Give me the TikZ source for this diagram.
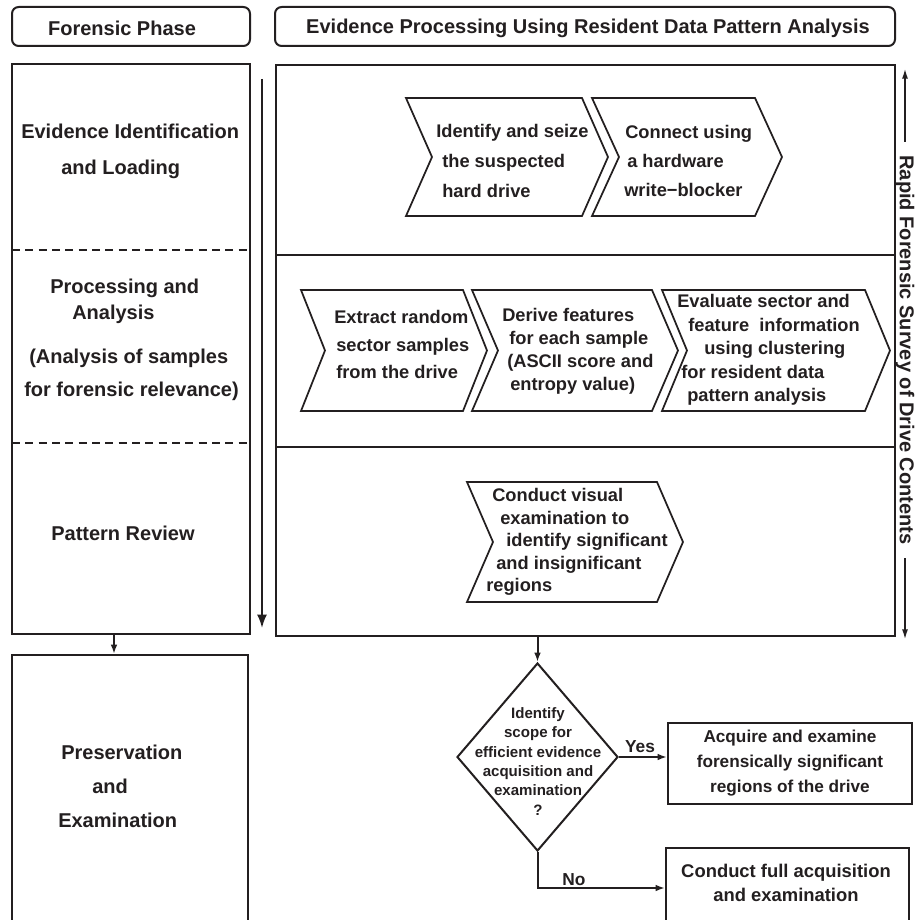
\documentclass[tikz,border=0pt]{standalone}
\usepackage{fontspec}
\setmainfont{Liberation Sans}
\usetikzlibrary{arrows.meta,shapes.geometric}
\definecolor{ink}{HTML}{231F20}
\newcommand\fs[2]{\fontsize{#1}{#2}\selectfont\bfseries}
\newcommand\chevshape[5]{\draw[chev] (#1,#3) -- (#2,#3) -- ({#2+#5},{(#3+#4)/2}) -- (#2,#4) -- (#1,#4) -- ({#1+#5},{(#3+#4)/2}) -- cycle;}
\begin{document}
\begin{tikzpicture}[x=0.75pt,y=-0.75pt,
  box/.style={draw=ink, line width=1.5pt, inner sep=0pt},
  hdr/.style={box, rounded corners=5pt, minimum height=29.25pt},
  chev/.style={draw=ink, line width=1.3pt, line join=miter},
  arr/.style={draw=ink, line width=1.5pt, -{Latex[length=7pt,width=5pt]}},
  txt/.style={inner sep=0pt, align=left, anchor=west, text=ink},
  ctxt/.style={inner sep=0pt, align=center, text=ink}]
\fill[white] (0,0) rectangle (918,920);
\useasboundingbox (0,0) rectangle (918,920);

% headers
\node[hdr, minimum width=178.5pt] (h1) at (131,26.5) {};
\node[ctxt, font=\fs{15}{18}] (h1t) at (122,28) {Forensic Phase};
\node[hdr, minimum width=465pt] (h2) at (585,26.5) {};
\node[ctxt, font=\fs{15}{18}] (h2t) at (588,28) {Evidence Processing Using Resident Data Pattern Analysis};

% left phase box
\node[box, minimum width=178.5pt, minimum height=427.5pt] (lbox) at (131,349) {};
\draw[ink, line width=1.3pt, dash pattern=on 6pt off 4pt] (12,250) -- (250,250);
\draw[ink, line width=1.3pt, dash pattern=on 6pt off 4pt] (12,443) -- (250,443);
\node[txt, font=\fs{15}{27}] (p1) at (21,151) {Evidence Identification\\\hspace*{30pt}and Loading};
\node[txt, font=\fs{15}{19.5}] (p2a) at (50,301) {Processing and\\\hspace*{16.5pt}Analysis};
\node[txt, font=\fs{15}{24.75}] (p2b) at (24,374.5) {\hspace*{3.75pt}(Analysis of samples\\for forensic relevance)};
\node[ctxt, font=\fs{15}{18}] (p3) at (123,533) {Pattern Review};
\coordinate (la1) at (262,79);
\coordinate (la2) at (262,628);
\draw[draw=ink, line width=1.5pt, -{Latex[length=10pt,width=7.5pt]}] (la1) -- (la2);

% preservation
\node[box, minimum width=177pt, minimum height=206.25pt] (pres) at (130,792.5) {};
\node[txt, font=\fs{15}{25.5}] (pt) at (58,786) {\hspace*{2.25pt}Preservation\\\hspace*{25.5pt}and\\Examination};
\coordinate (pa) at ([xshift=-12.75pt]lbox.south);
\draw[arr] (pa) -- (pa |- pres.north);

% right box
\node[box, minimum width=464.25pt, minimum height=428.25pt] (rbox) at (585.5,350.5) {};
\draw[ink, line width=1.5pt] (276,255) -- (895,255);
\draw[ink, line width=1.5pt] (276,447) -- (895,447);

% row 1
\chevshape{406}{582}{98}{216}{26}
\chevshape{592}{755}{98}{216}{27}
\node[txt, font=\fs{13.7}{22.5}] (t1a) at (436,161) {Identify and seize\\\hspace*{4.5pt}the suspected\\\hspace*{4.5pt}hard drive};
\node[txt, font=\fs{13.7}{22}] (t1b) at (624,161) {\hspace*{0.75pt}Connect using\\\hspace*{2.25pt}a hardware\\write−blocker};

% row 2
\chevshape{301}{463}{290}{411}{24}
\chevshape{472}{652}{290}{411}{26}
\chevshape{662}{865}{290}{411}{25}
\node[txt, font=\fs{13.7}{20.6}] (t2a) at (334,344.5) {Extract random\\\hspace*{1.5pt}sector samples\\\hspace*{1.5pt}from the drive};
\node[txt, font=\fs{13.7}{17.25}] (t2b) at (502,351.5) {Derive features\\\hspace*{5.25pt}for each sample\\\hspace*{3.75pt}(ASCII score and\\\hspace*{6pt}entropy value)};
\node[txt, font=\fs{13.7}{17.6}] (t2c) at (677,350) {Evaluate sector and\\\hspace*{8.25pt}feature\ \ information\\\hspace*{20.25pt}using clustering\\\hspace*{3pt}for resident data\\\hspace*{7.5pt}pattern analysis};

% row 3
\chevshape{467}{657}{482}{602}{26}
\node[txt, font=\fs{13.7}{16.9}] (t3) at (486,542) {\hspace*{4.5pt}Conduct visual\\\hspace*{10.5pt}examination to\\\hspace*{15pt}identify significant\\\hspace*{7.5pt}and insignificant\\regions};

% right vertical label
\node[font=\fs{15}{18}, text=ink, rotate=-90, inner xsep=10pt, inner ysep=0pt] (rl) at (905,350) {Rapid Forensic Survey of Drive Contents};
\coordinate (rtop) at (907,68);
\coordinate (rbot) at (907,640);
\draw[draw=ink, line width=1.5pt, -{Latex[length=8pt,width=4.5pt]}] (rl.west) -- (rl.west |- rtop);
\draw[draw=ink, line width=1.5pt, -{Latex[length=8pt,width=4.5pt]}] (rl.east) -- (rl.east |- rbot);

% decision
\node[diamond, draw=ink, line width=1.5pt, minimum width=120.75pt, minimum height=141pt, inner sep=0pt] (dec) at (537.5,757) {};
\node[ctxt, font=\fs{11.3}{14.5}] (dect) at (538,761.5) {Identify\\scope for\\efficient evidence\\acquisition and\\examination\\?};
\draw[arr] (rbox.south -| dec.north) -- (dec.north);

\node[box, minimum width=183pt, minimum height=60.75pt, font=\fs{12.9}{18.75}, align=center, text=ink] (yes) at (790,763.5) {Acquire and examine\\forensically significant\\regions of the drive};
\draw[arr] (dec.east) -- (dec.east -| yes.west);
\node[ctxt, font=\fs{13}{15}] (yl) at (640,747) {Yes};

\node[box, minimum width=182.25pt, minimum height=60pt] (no) at (787.5,888) {};
\node[ctxt, font=\fs{13.8}{18}] (not) at (786,883) {Conduct full acquisition\\and examination};
\draw[arr] (dec.south) |- (no.west);
\node[ctxt, font=\fs{13}{15}] (nl) at (574,880) {No};
\end{tikzpicture}
\end{document}
